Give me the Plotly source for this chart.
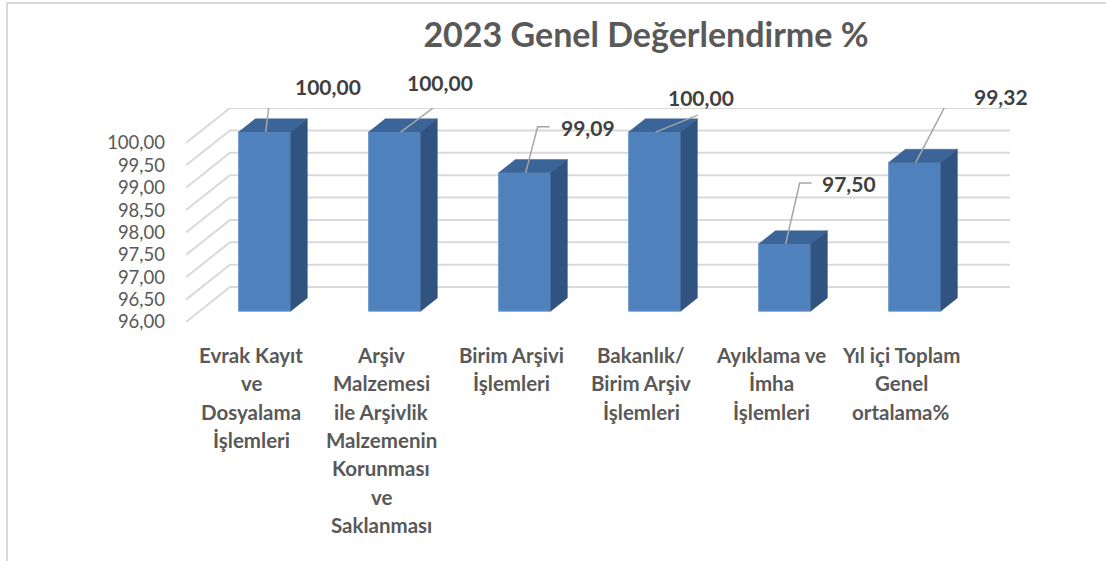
import plotly.graph_objects as go

# ---- data -------------------------------------------------------------
categories = [
    "Evrak Kayıt<br>ve<br>Dosyalama<br>İşlemleri",
    "Arşiv<br>Malzemesi<br>ile Arşivlik<br>Malzemenin<br>Korunması<br>ve<br>Saklanması",
    "Birim Arşivi<br>İşlemleri",
    "Bakanlık/<br>Birim Arşiv<br>İşlemleri",
    "Ayıklama ve<br>İmha<br>İşlemleri",
    "Yıl içi Toplam<br>Genel<br>ortalama%",
]
values = [100.00, 100.00, 99.09, 100.00, 97.50, 99.32]
tick_values = [96.00, 96.50, 97.00, 97.50, 98.00, 98.50, 99.00, 99.50, 100.00]
title_text = "2023 Genel Değerlendirme %"

# ---- layout geometry --------------------------------------------------
W, H = 1106, 561
M_L, M_R, M_T, M_B = 186, 96, 108, 239
Y_BASE = 96.0
DEPTH_X = 0.338            # full depth of the 3-D box, in category units
DEPTH_Y = 0.78             # full depth of the 3-D box, in value units
X_RANGE = [-0.5, len(categories) - 0.5 + DEPTH_X]
Y_RANGE = [Y_BASE, tick_values[-1] + DEPTH_Y]
PX_X = (W - M_L - M_R) / (X_RANGE[1] - X_RANGE[0])   # px per category
PX_Y = (H - M_T - M_B) / (Y_RANGE[1] - Y_RANGE[0])   # px per value unit

BAR_W = 0.4
D_FRONT, D_BACK = 0.31, 0.69
FDX, FDY = D_FRONT * DEPTH_X, D_FRONT * DEPTH_Y
SDX, SDY = (D_BACK - D_FRONT) * DEPTH_X, (D_BACK - D_FRONT) * DEPTH_Y

C_FRONT, C_TOP, C_SIDE = "#4f81bd", "#3b6499", "#31537f"
C_GRID, C_LEADER = "#d9d9d9", "#a6a6a6"
C_TEXT, C_LABEL = "#595959", "#404040"
FONT = "Lato"

# value-label placement: (start dx, elbow dx, elbow dy, tail, label dx, label dy, anchor)
label_pos = [
    (1, 7, 47, 12, 28, 46, "left"),
    (6, 49, 32, 0, 45, 50, "center"),
    (1, 13, 46, 12, 34, 45, "left"),
    (1, 43, 17, 0, 46, 35, "center"),
    (1, 15, 61, 12, 35, 61, "left"),
    (1, 36, 67, 12, 57, 66, "left"),
]

fig = go.Figure()
shapes = []

# gridlines: diagonal on the side wall, then across the back wall
for t in tick_values:
    shapes.append(dict(
        type="path", xref="x", yref="y", layer="below",
        path=f"M {X_RANGE[0]} {t} L {X_RANGE[0] + DEPTH_X} {t + DEPTH_Y} L {X_RANGE[1]} {t + DEPTH_Y}",
        line=dict(color=C_GRID, width=2),
    ))

# front faces of the bars
fig.add_trace(go.Bar(
    x=[i + FDX for i in range(len(values))],
    y=[v - Y_BASE for v in values],
    base=Y_BASE + FDY,
    width=BAR_W,
    marker=dict(color=C_FRONT, line=dict(color="#6b98cf", width=1)),
    hoverinfo="skip",
))

# top and side faces
for i, v in enumerate(values):
    xl = i + FDX - BAR_W / 2
    xr = i + FDX + BAR_W / 2
    yt = v + FDY
    yb = Y_BASE + FDY
    fig.add_trace(go.Scatter(
        x=[xl, xr, xr + SDX, xl + SDX, xl],
        y=[yt, yt, yt + SDY, yt + SDY, yt],
        fill="toself", fillcolor=C_TOP, mode="lines",
        line=dict(color=C_TOP, width=0.5), hoverinfo="skip",
    ))
    fig.add_trace(go.Scatter(
        x=[xr, xr, xr + SDX, xr + SDX, xr],
        y=[yb, yt, yt + SDY, yb + SDY, yb],
        fill="toself", fillcolor=C_SIDE, mode="lines",
        line=dict(color=C_SIDE, width=0.5), hoverinfo="skip",
    ))

annotations = []

# value labels with elbow leader lines
for i, (v, pos) in enumerate(zip(values, label_pos)):
    sdx, edx, edy, tail, ldx, ldy, anchor = pos
    xc, yt = i + FDX, v + FDY
    lx = [xc + sdx / PX_X, xc + edx / PX_X]
    ly = [yt, yt + edy / PX_Y]
    if tail:
        lx.append(xc + (edx + tail) / PX_X)
        ly.append(yt + edy / PX_Y)
    fig.add_trace(go.Scatter(
        x=lx, y=ly, mode="lines", line=dict(color=C_LEADER, width=1.5),
        hoverinfo="skip",
    ))
    annotations.append(dict(
        x=xc, y=yt, xref="x", yref="y", xshift=ldx, yshift=ldy,
        text=f"{v:.2f}".replace(".", ","), showarrow=False,
        xanchor=anchor, yanchor="middle",
        font=dict(family=FONT, size=21, color=C_LABEL, weight="bold"),
    ))

# category labels, one line at a time
for i, cat in enumerate(categories):
    for k, line in enumerate(cat.split("<br>")):
        annotations.append(dict(
            x=i, y=Y_BASE, xref="x", yref="y", yshift=-(33 + 28.3 * k),
            text=line, showarrow=False, xanchor="center", yanchor="middle",
            font=dict(family=FONT, size=20.5, color=C_TEXT, weight="bold"),
        ))

# chart frame (left and top edges)
PW, PH = W - M_L - M_R, H - M_T - M_B
fx = (7 - M_L) / PW
fy_top = (H - M_B - 3) / PH
fy_bot = -(M_B + 10) / PH
fx_right = (W + 5 - M_L) / PW
shapes.append(dict(
    type="path", xref="paper", yref="paper", layer="below",
    path=f"M {fx} {fy_bot} L {fx} {fy_top} L {fx_right} {fy_top}",
    line=dict(color=C_GRID, width=2),
))

fig.update_layout(
    width=W, height=H,
    margin=dict(l=M_L, r=M_R, t=M_T, b=M_B),
    paper_bgcolor="white", plot_bgcolor="white",
    separators=",.",
    showlegend=False,
    hovermode=False,
    title=dict(
        text=title_text, xref="container", yref="container",
        x=646 / W, y=1 - 35 / H, xanchor="center", yanchor="middle",
        font=dict(family=FONT, size=34, color=C_TEXT, weight="bold"),
    ),
    xaxis=dict(range=X_RANGE, showticklabels=False, showgrid=False,
               zeroline=False, showline=False, fixedrange=True),
    yaxis=dict(range=Y_RANGE, tickvals=tick_values, tickformat=".2f",
               showgrid=False, zeroline=False, showline=False, ticks="",
               ticklabelstandoff=20, fixedrange=True,
               tickfont=dict(family=FONT, size=18.5, color=C_TEXT)),
    shapes=shapes,
    annotations=annotations,
)

fig.write_html("out.html")
